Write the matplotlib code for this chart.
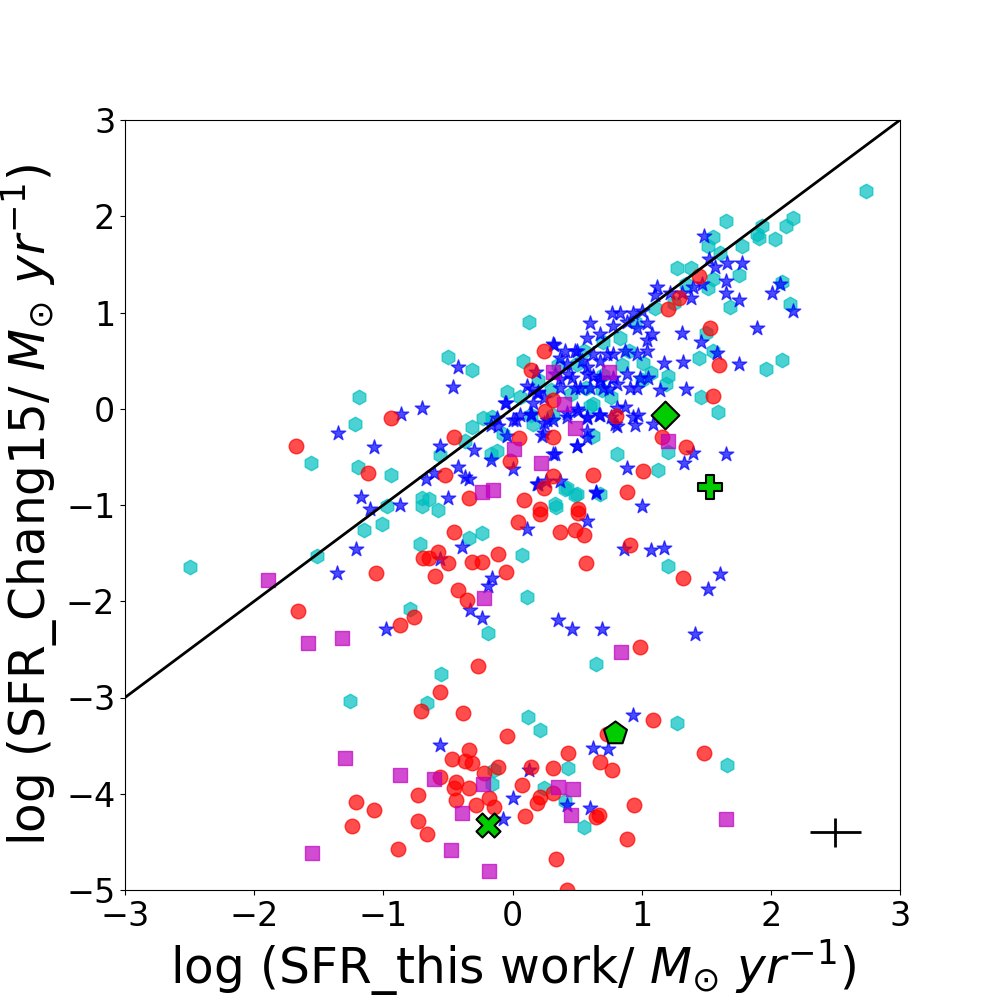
#!/usr/bin/env python
# coding: utf-8
import numpy as np
import matplotlib
matplotlib.use("Agg")
import matplotlib.pyplot as plt

# cyan hexagons
cyan_x = [2.74, 1.65, 1.93, 1.89, 1.91, 2.12, 2.17, 2.03, 1.78, 1.55, 1.51, 1.61, 1.27, 1.38,
          1.75, 2.09, 2.15, 1.68, 1.51, 1.55, 1.34, 0.13, 1.44, 1.96, 2.09, 1.50, 1.55, 1.46,
          1.59, 1.20, 1.19, 0.76, 0.60, 0.62, 1.20, 1.13, 0.08, 0.50, 0.42, 0.50, 0.33, 0.68,
          0.16, 1.07, 1.01, 0.70, 0.83, 0.69, 0.62, 0.57, 0.81, 0.31, 0.06, -0.04, 0.14,
          -0.50, -0.31, -1.19, -1.22, -1.56, -1.20, -0.94, -0.23, -0.16, -0.31, -0.37, -0.56,
          -0.17, -0.12, -0.07, -0.97, -0.70, -0.65, -0.70, -0.58,
          -2.50, -1.51, -1.15, -1.01, -0.72, -0.34, -0.24, -0.79, -0.19, -0.55, -1.26, -0.66,
          -0.14, -0.16, 0.34, 0.07, 0.11, 1.20, 0.65, 0.12, 0.21, 1.27, 1.66, 0.43, 0.24,
          0.41, 0.55, 0.41, 0.48,
          0.20, 0.35, 0.45, 0.90, 1.00, 0.95, 0.85, 0.30, 1.10, 1.25, 0.55, 0.70]
cyan_y = [2.26, 1.95, 1.90, 1.82, 1.77, 1.90, 1.98, 1.76, 1.69, 1.78, 1.69, 1.62, 1.46, 1.46,
          1.39, 1.32, 1.09, 1.06, 1.25, 1.35, 1.30, 0.90, 0.53, 0.41, 0.51, 0.79, 0.60, 0.12,
          -0.03, 0.34, 0.26, 0.12, 0.03, -0.28, -0.45, -0.64, 0.50, 0.47, -0.82, -0.89, -0.99, -0.89,
          -0.16, 0.37, 0.48, 0.69, 0.74, 0.19, 0.05, 0.22, -0.47, -0.07, 0.12, 0.17, -0.07,
          0.54, 0.40, 0.12, -0.16, -0.56, -0.60, -0.69, -0.10, -0.09, -0.19, -0.33, -0.48,
          -0.47, -0.44, -0.26, -1.01, -0.93, -0.94, -1.01, -1.05,
          -1.64, -1.53, -1.26, -1.20, -1.40, -1.34, -1.29, -2.08, -2.33, -2.76, -3.04, -3.06,
          -3.75, -3.90, -1.02, -1.52, -1.96, -1.63, -2.65, -3.20, -3.34, -3.26, -3.70, -3.73, -3.94,
          -4.08, -4.35, -0.83, -0.90,
          0.30, 0.45, 0.15, 0.60, 0.30, 0.90, 0.45, 0.20, 1.05, 1.10, 0.60, 0.35]

# blue stars
blue_x = [-0.42, -0.46, -0.70, -0.86, -1.35, -1.07, -0.05, -0.12, -0.17, -0.11, -0.04, -0.56,
          -0.30, -0.17, -0.42, -0.61, -0.67, -0.37, -0.34, -0.50, -1.17, -0.87, -1.10, 0.00,
          -1.21, -1.36, -0.98, -0.39, -0.56, -0.16, -0.19, -0.33, -0.24, -0.56, 0.00, -0.07,
          0.11, 0.58, 0.65, 0.86, 1.00, 1.07, 1.17, 0.35, 0.46, 0.69, 0.19, 1.51, 1.61, 1.41,
          0.93, 0.62, 0.74, 0.13, 0.42, 0.60,
          1.48, 1.52, 1.57, 1.66, 1.78, 1.65, 2.07, 2.01, 2.17, 1.65, 1.75, 1.89, 1.46, 1.58,
          1.75, 1.31, 1.32, 1.17, 1.05, 1.34, 1.14, 0.87, 0.97, 0.95, 1.09, 0.81, 1.40, 1.33,
          1.65, 0.89, 1.12, 1.10, 1.22, 1.31, 1.40, 1.38, 1.47,
          0.60, 0.77, 0.32, 0.58, 0.68, 0.18, 0.15, 0.20, 0.11, 0.37, 0.42, 0.50, 0.46, 0.37,
          0.58, 0.62, 0.73, 0.68, 0.75, 0.52, -0.06, 0.14, 0.03, 0.27, 0.24, 0.31, 0.42, 0.50,
          0.58, 0.68, 0.50, 0.58, 0.81, 0.79, 0.20, 0.37, 0.65,
          0.31, 0.41, 0.48, 0.54, 0.33, 0.43, 0.37, 0.48, 0.20, 0.24, 0.16, 0.83, 0.93, 1.00,
          0.78, 0.89, 0.96, 1.04, 0.62, 0.68, 0.78, 0.87, 0.96, 1.04, 0.58, 0.68, 0.78, 0.89,
          0.99, 0.60, 0.70, 0.81, 0.91, 0.96, 1.08, 1.04, 0.00, 0.06, 0.14, 0.24, 0.31, 0.42,
          0.51, 0.58, 0.23, 0.33, 0.50, 0.58, 0.67, 0.76, 0.93, 0.26]
blue_y = [0.43, 0.23, 0.01, -0.05, -0.25, -0.40, 0.06, -0.10, -0.17, -0.18, -0.28, -0.39,
          -0.43, -0.53, -0.60, -0.67, -0.73, -0.71, -0.73, -0.93, -0.92, -1.00, -1.04, -0.63,
          -1.46, -1.71, -2.29, -1.44, -1.56, -1.76, -1.84, -2.09, -2.17, -3.49, -4.04, -4.26,
          -1.25, -1.17, -0.87, -1.46, -1.01, -1.47, -1.45, -2.19, -2.29, -2.29, -0.78, -1.87,
          -1.72, -2.34, -3.18, -3.52, -3.53, -3.75, -4.12, -4.15,
          1.79, 1.56, 1.47, 1.51, 1.51, 1.33, 1.30, 1.20, 1.02, 1.20, 1.13, 0.84, 0.69, 0.58,
          0.46, 0.79, 0.49, 0.48, 0.32, 0.21, 0.20, 0.02, -0.07, -0.17, -0.16, -0.18, -0.46,
          -0.56, -0.47, -0.62, 1.27, 1.18, 1.20, 1.20, 1.26, 1.15, 1.30,
          0.89, 0.99, 0.66, 0.73, 0.78, 0.38, 0.21, 0.16, 0.24, 0.53, 0.47, 0.60, 0.32, 0.31,
          0.43, 0.34, 0.57, 0.29, 0.21, 0.22, 0.06, -0.07, -0.12, -0.12, -0.25, -0.47, -0.09,
          0.00, -0.10, -0.07, -0.39, -0.30, 0.01, -0.16, -0.78, -0.75, -0.88,
          0.67, 0.60, 0.60, 0.50, 0.36, 0.36, 0.22, 0.22, 0.17, 0.11, 0.06, 0.99, 0.99, 1.02,
          0.86, 0.90, 0.84, 0.89, 0.57, 0.50, 0.57, 0.60, 0.57, 0.60, 0.36, 0.32, 0.32, 0.36,
          0.32, 0.22, 0.22, 0.26, 0.22, 0.22, 0.78, 0.71, -0.12, -0.07, -0.05, -0.15, -0.12,
          -0.04, -0.02, -0.09, -0.28, -0.47, -0.39, -0.23, -0.07, -0.09, -0.09, -0.75]

# red circles
red_x = [1.44, 1.29, 1.20, 1.53, 1.60, 1.55, 0.24, 0.14, 0.31, 0.25, 0.80, 1.16, 1.34,
         0.05, 0.31, -0.02, 0.31, 0.24, 0.62, 1.01, 0.89, 0.09, 0.21, 0.51,
         -1.68, -0.94, -0.45, -1.12, -0.52, -0.34,
         -0.45, -0.69, -0.65, -0.58, -0.50, -0.31, -0.24, -0.11, -0.05, -1.06, -0.60, -0.42,
         -0.35, -1.66, -0.87, -0.76, -0.27,
         0.04, 0.21, 0.51, 0.37, 0.48, 0.55, 0.57, 0.91, 1.32, 0.99,
         -0.56, -0.71, -0.38, -0.04, -0.34, -0.47, -0.37, -0.31, -0.11, -0.22, -0.56, -0.44,
         -0.45, -0.34, -0.73, -0.44, -0.28, -0.18, -0.14, -1.21, -1.07, -1.24, -0.73, -0.66,
         -0.89,
         1.09, 0.43, 1.48, 0.68, 0.77, 0.73, 0.14, 0.31, 0.07, 0.21, 0.19, 0.31, 0.10, 0.65,
         0.67, 0.94, 0.89, 0.34, 0.42]
red_y = [1.38, 1.15, 1.04, 0.84, 0.45, 0.13, 0.60, 0.40, 0.09, -0.02, -0.08, -0.29, -0.40,
         -0.30, -0.29, -0.54, -0.70, -0.82, -0.69, -0.65, -0.87, -0.95, -1.04, -1.04,
         -0.39, -0.10, -0.29, -0.67, -0.69, -0.93,
         -1.28, -1.55, -1.55, -1.49, -1.60, -1.59, -1.59, -1.51, -1.70, -1.71, -1.74, -1.88,
         -1.99, -2.10, -2.25, -2.16, -2.67,
         -1.18, -1.09, -1.08, -1.28, -1.26, -1.31, -1.60, -1.42, -1.76, -2.48,
         -2.94, -3.14, -3.16, -3.40, -3.55, -3.64, -3.66, -3.68, -3.72, -3.78, -3.83, -3.88,
         -3.94, -3.94, -4.01, -4.07, -4.12, -4.04, -4.14, -4.09, -4.17, -4.34, -4.28, -4.42,
         -4.57,
         -3.23, -3.58, -3.58, -3.67, -3.75, -3.38, -3.72, -3.73, -3.91, -4.03, -4.10, -3.99,
         -4.23, -4.24, -4.22, -4.12, -4.47, -4.68, -5.00]

# magenta squares
mag_x = [0.31, 0.75, 0.40, 0.48, 1.20, 0.01, 0.22, -0.24, -0.15,
         -1.89, -1.58, -1.32, -0.22, 0.84,
         -1.30, -0.87, -0.61, -0.23, 0.35, 0.47, -0.39, 0.45, -1.55, -0.48, -0.18, 1.65]
mag_y = [0.38, 0.38, 0.05, -0.20, -0.33, -0.42, -0.56, -0.87, -0.84,
         -1.78, -2.43, -2.38, -1.97, -2.53,
         -3.63, -3.80, -3.85, -3.90, -3.93, -3.95, -4.20, -4.22, -4.62, -4.58, -4.80, -4.26]

# single highlighted objects (green, black edge)
green_x = [1.18, 1.53, 0.79, -0.19]
green_y = [-0.07, -0.81, -3.37, -4.32]
green_m = ['D', 'P', 'p', 'X']
green_s = [200, 300, 300, 300]

# typical error
err_x, err_y = 2.5, -4.4
err_dx, err_dy = 0.2, 0.15

fig, ax = plt.subplots(figsize=(10, 10), dpi=100)
ax.scatter(cyan_x, cyan_y, s=110, c='c', marker='h', alpha=0.7)
ax.scatter(blue_x, blue_y, s=120, c='b', marker='*', alpha=0.7)
ax.scatter(red_x, red_y, s=110, c='r', marker='o', alpha=0.7)
ax.scatter(mag_x, mag_y, s=100, c='m', marker='s', alpha=0.7)
for x, y, m, s in zip(green_x, green_y, green_m, green_s):
    ax.scatter(x, y, s=s, c='#00cc00', marker=m, edgecolors='k', linewidths=1.5, zorder=3)

xx = np.array([-3, 3])
ax.plot(xx, xx, 'k-', lw=2)
ax.errorbar(err_x, err_y, xerr=err_dx, yerr=err_dy, fmt='none', ecolor='k', elinewidth=2, capsize=0)

ax.set_xlim(-3, 3)
ax.set_ylim(-5, 3)
ax.tick_params(labelsize=24)
ax.set_xlabel(r"log (SFR_this work/ $M_{\odot}$ $yr^{-1}$)", fontsize=35)
ax.set_ylabel(r"log (SFR_Chang15/ $M_{\odot}$ $yr^{-1}$)", fontsize=35)

fig.savefig("out.png", dpi=100)
